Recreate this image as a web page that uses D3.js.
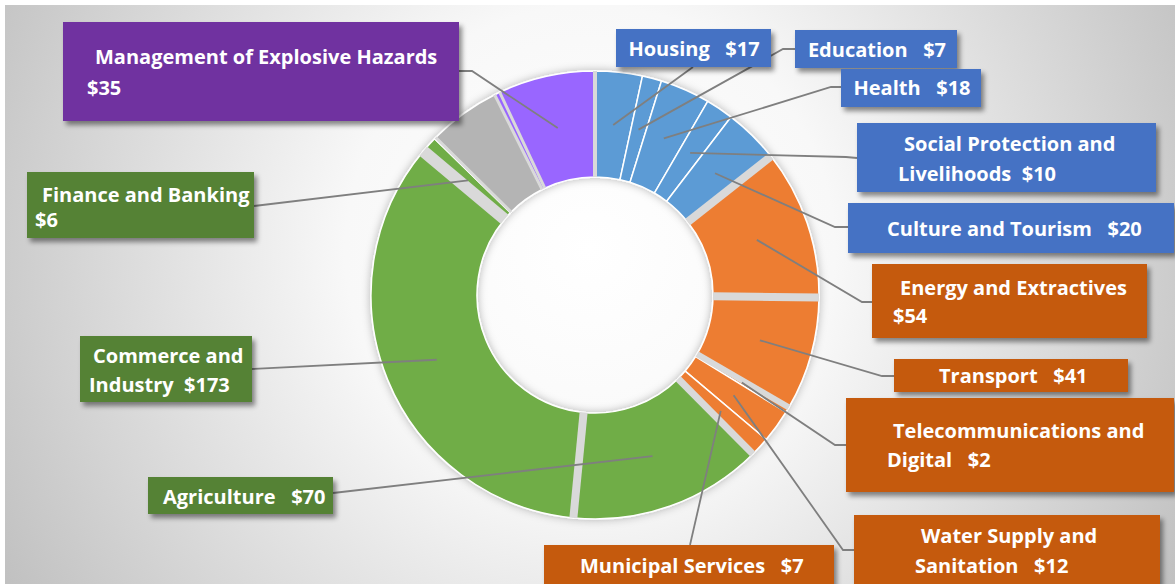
<!DOCTYPE html>
<html>
<head>
<meta charset="utf-8">
<script src="https://cdn.jsdelivr.net/npm/d3@7"></script>
<style>
  html, body { margin: 0; padding: 0; background: #ffffff; }
  svg { display: block; }
  text { font-family: "Open Sans", Lato, sans-serif; font-weight: 700; white-space: pre; }
</style>
</head>
<body>
<svg id="chart" width="1175" height="584"></svg>
<script>
// ---------------- DATA (clockwise from 12 o'clock) ----------------
const categories = [
  "Housing", "Education", "Health", "Social Protection and Livelihoods", "Culture and Tourism",
  "Energy and Extractives", "Transport", "Telecommunications and Digital", "Water Supply and Sanitation", "Municipal Services",
  "Agriculture", "Commerce and Industry", "Finance and Banking", "(unlabeled green)",
  "(unlabeled grey)", "(unlabeled purple)", "Management of Explosive Hazards"
];
const values = [17, 7, 18, 10, 20, 54, 41, 2, 12, 7, 70, 173, 6, 0.6, 26, 2, 35];
const groups = ["blue", "blue", "blue", "blue", "blue",
                "orange", "orange", "orange", "orange", "orange",
                "green", "green", "green", "green",
                "grey", "purple", "purple"];
const currency = "$";

// ---------------- STYLES / LAYOUT ----------------
const sliceColor = { blue: "#5B9BD5", orange: "#ED7D31", green: "#70AD47", grey: "#B4B4B4", purple: "#9966FF" };
const boxColor   = { blue: "#4472C4", orange: "#C55A11", green: "#548235", purple: "#7030A0" };
const cx = 595, cy = 295, innerR = 118, outerR = 224;
const fontSize = 20;

// gaps drawn after the named slice (px width)
const gapAfter = {
  "Culture and Tourism": 8, "Energy and Extractives": 8, "Transport": 6,
  "Municipal Services": 7, "Agriculture": 8, "Commerce and Industry": 12,
  "(unlabeled green)": 3, "(unlabeled grey)": 3, "(unlabeled purple)": 3,
  "Management of Explosive Hazards": 4
};

// label boxes: box [x,y,w,h], lines [[template,x,baseline,anchor]], attach & elbow points
const labelLayout = {
  "Management of Explosive Hazards": { box: [63, 22, 396, 99],
    lines: [["{n}", 95, 64], ["{v}", 87, 95]], attach: [459, 71], elbow: [472, 71] },
  "Housing": { box: [616, 29, 155, 38], lines: [["{n}   {v}", 694, 56, "middle"]], attach: [693, 67], elbow: [693, 67] },
  "Education": { box: [795, 30, 162, 38], lines: [["{n}   {v}", 877, 57, "middle"]], attach: [795, 49], elbow: [783, 49] },
  "Health": { box: [841, 69, 140, 38], lines: [["{n}   {v}", 912, 95, "middle"]], attach: [841, 87], elbow: [831, 87] },
  "Social Protection and Livelihoods": { box: [857, 123, 299, 69],
    lines: [["Social Protection and", 904, 151], ["Livelihoods  {v}", 898, 181]], attach: [857, 158], elbow: [846, 157] },
  "Culture and Tourism": { box: [848, 203, 326, 50], lines: [["{n}   {v}", 887, 236]], attach: [848, 227], elbow: [835, 227] },
  "Energy and Extractives": { box: [872, 264, 275, 74],
    lines: [["{n}", 900, 295], ["{v}", 893, 323]], attach: [872, 302], elbow: [862, 302] },
  "Transport": { box: [894, 359, 234, 33], lines: [["{n}   {v}", 939, 383]], attach: [894, 376], elbow: [882, 376] },
  "Telecommunications and Digital": { box: [846, 398, 328, 94],
    lines: [["Telecommunications and", 893, 438], ["Digital   {v}", 887, 467]], attach: [846, 445], elbow: [835, 445] },
  "Water Supply and Sanitation": { box: [854, 515, 306, 80],
    lines: [["Water Supply and", 921, 543], ["Sanitation   {v}", 915, 573]], attach: [854, 550], elbow: [843, 550] },
  "Municipal Services": { box: [544, 545, 290, 50], lines: [["{n}   {v}", 580, 573]], attach: [690, 545], elbow: [690, 545] },
  "Agriculture": { box: [148, 477, 185, 37], lines: [["{n}   {v}", 163, 504]], attach: [333, 493], elbow: [333, 493] },
  "Commerce and Industry": { box: [80, 336, 172, 66],
    lines: [["Commerce and", 93, 363], ["Industry  {v}", 89, 392]], attach: [252, 369], elbow: [252, 369] },
  "Finance and Banking": { box: [27, 172, 227, 66],
    lines: [["{n}", 42, 202], ["{v}", 35, 227]], attach: [254, 206], elbow: [254, 206] }
};

// ---------------- DRAW ----------------
const svg = d3.select("#chart");
const defs = svg.append("defs");

const bg = defs.append("radialGradient").attr("id", "bgGrad")
  .attr("gradientUnits", "userSpaceOnUse").attr("cx", 590).attr("cy", 250).attr("r", 700);
bg.append("stop").attr("offset", 0).attr("stop-color", "#ffffff");
bg.append("stop").attr("offset", 0.35).attr("stop-color", "#f8f8f8");
bg.append("stop").attr("offset", 1).attr("stop-color", "#bdbdbd");

const dShadow = defs.append("filter").attr("id", "donutShadow")
  .attr("x", "-20%").attr("y", "-20%").attr("width", "140%").attr("height", "140%");
dShadow.append("feDropShadow").attr("dx", 0).attr("dy", 0).attr("stdDeviation", 4)
  .attr("flood-color", "#000").attr("flood-opacity", 0.28);

const bShadow = defs.append("filter").attr("id", "boxShadow")
  .attr("x", "-10%").attr("y", "-20%").attr("width", "130%").attr("height", "160%");
bShadow.append("feDropShadow").attr("dx", 3).attr("dy", 4).attr("stdDeviation", 2.5)
  .attr("flood-color", "#000").attr("flood-opacity", 0.45);

svg.append("rect").attr("x", 5).attr("y", 5).attr("width", 1170).attr("height", 579)
  .attr("fill", "url(#bgGrad)");

const data = categories.map((c, i) => ({ name: c, value: values[i], group: groups[i] }));
const pie = d3.pie().sort(null).value(d => d.value).startAngle(0).endAngle(2 * Math.PI);
const arcs = pie(data);
const arc = d3.arc().innerRadius(innerR).outerRadius(outerR);

const donut = svg.append("g").attr("transform", `translate(${cx},${cy})`).attr("filter", "url(#donutShadow)");
donut.selectAll("path.slice").data(arcs).join("path")
  .attr("class", "slice")
  .attr("d", arc)
  .attr("fill", d => sliceColor[d.data.group])
  .attr("stroke", "#ffffff").attr("stroke-width", 1.5).attr("stroke-linejoin", "round");

// gaps between some slices
const gapArcs = arcs.filter(d => gapAfter[d.data.name]);
donut.selectAll("line.gap").data(gapArcs).join("line")
  .attr("class", "gap")
  .attr("x1", d => innerR * Math.sin(d.endAngle)).attr("y1", d => -innerR * Math.cos(d.endAngle))
  .attr("x2", d => outerR * Math.sin(d.endAngle)).attr("y2", d => -outerR * Math.cos(d.endAngle))
  .attr("stroke", "#d9d9d9").attr("stroke-width", d => gapAfter[d.data.name]);

// leader lines
const labeled = arcs.filter(d => labelLayout[d.data.name]);
const leaders = svg.append("g");
labeled.forEach(d => {
  const L = labelLayout[d.data.name];
  const c = arc.centroid(d);
  const pts = [[cx + c[0], cy + c[1]], L.elbow, L.attach];
  leaders.append("path").attr("d", d3.line()(pts))
    .attr("fill", "none").attr("stroke", "#7f7f7f").attr("stroke-width", 1.8);
});

// label boxes
const labelsG = svg.append("g");
labeled.forEach(d => {
  const L = labelLayout[d.data.name];
  const g = labelsG.append("g");
  g.append("rect").attr("x", L.box[0]).attr("y", L.box[1]).attr("width", L.box[2]).attr("height", L.box[3])
    .attr("fill", boxColor[d.data.group]).attr("filter", "url(#boxShadow)");
  L.lines.forEach(([tpl, x, y, anchor]) => {
    const txt = tpl.replace("{n}", d.data.name).replace("{v}", currency + d.data.value);
    g.append("text").attr("x", x).attr("y", y).attr("text-anchor", anchor || "start")
      .attr("fill", "#ffffff").attr("font-size", fontSize).text(txt);
  });
});
</script>
</body>
</html>
